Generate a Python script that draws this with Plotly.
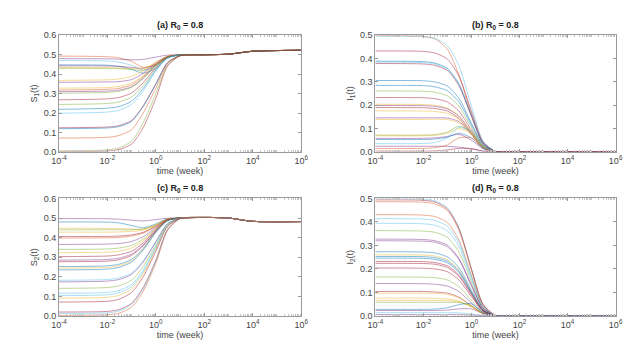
import plotly.graph_objects as go
from plotly.subplots import make_subplots

# time points (weeks), log axis
time_wk = [1e-4, 1e-2, 3e-2, 0.1, 0.3, 1, 3, 10, 100, 1e3, 1e4, 1e6]
x_ticks = [1e-4, 1e-2, 1, 1e2, 1e4, 1e6]
x_tick_labels = ["10<sup>-4</sup>", "10<sup>-2</sup>", "10<sup>0</sup>",
                 "10<sup>2</sup>", "10<sup>4</sup>", "10<sup>6</sup>"]

# MATLAB default line colours
B, O, Y, P, G, C, R = "#0072BD", "#D95319", "#EDB120", "#7E2F8E", "#77AC30", "#4DBEEE", "#A2142F"

# long-time behaviour shared by every curve of a panel (t = 100, 1e3, 1e4, 1e6)
s1_tail = [0.500, 0.503, 0.518, 0.523]
s2_tail = [0.503, 0.500, 0.483, 0.482]
i_tail = [0.0, 0.0, 0.0, 0.0]

# early part of each curve (t = 1e-4 ... 10)
s1_curves = [
    (O, [0.493, 0.490, 0.484, 0.466, 0.435, 0.450, 0.490, 0.499]),
    (P, [0.480, 0.479, 0.477, 0.474, 0.476, 0.488, 0.498, 0.500]),
    (C, [0.470, 0.468, 0.462, 0.445, 0.420, 0.440, 0.487, 0.499]),
    (B, [0.448, 0.446, 0.440, 0.425, 0.405, 0.430, 0.485, 0.499]),
    (P, [0.443, 0.442, 0.440, 0.435, 0.430, 0.450, 0.488, 0.499]),
    (Y, [0.435, 0.434, 0.432, 0.430, 0.432, 0.455, 0.490, 0.499]),
    (G, [0.430, 0.429, 0.428, 0.424, 0.420, 0.445, 0.488, 0.499]),
    (Y, [0.368, 0.371, 0.375, 0.388, 0.418, 0.463, 0.492, 0.499]),
    (P, [0.358, 0.360, 0.362, 0.372, 0.405, 0.458, 0.491, 0.499]),
    (Y, [0.328, 0.331, 0.337, 0.354, 0.393, 0.452, 0.490, 0.499]),
    (O, [0.318, 0.322, 0.327, 0.345, 0.387, 0.449, 0.489, 0.499]),
    (P, [0.310, 0.313, 0.318, 0.335, 0.380, 0.447, 0.489, 0.499]),
    (G, [0.302, 0.306, 0.312, 0.332, 0.377, 0.445, 0.488, 0.499]),
    (R, [0.268, 0.273, 0.280, 0.303, 0.356, 0.435, 0.486, 0.499]),
    (G, [0.244, 0.249, 0.257, 0.282, 0.341, 0.428, 0.485, 0.499]),
    (B, [0.219, 0.225, 0.233, 0.261, 0.326, 0.421, 0.483, 0.499]),
    (C, [0.199, 0.205, 0.214, 0.244, 0.313, 0.416, 0.482, 0.499]),
    (R, [0.124, 0.128, 0.135, 0.162, 0.237, 0.350, 0.459, 0.496]),
    (B, [0.119, 0.123, 0.130, 0.157, 0.233, 0.348, 0.458, 0.496]),
    (O, [0.071, 0.075, 0.084, 0.114, 0.200, 0.328, 0.453, 0.495]),
    (G, [0.005, 0.010, 0.020, 0.055, 0.150, 0.300, 0.445, 0.495]),
    (R, [0.000, 0.004, 0.012, 0.040, 0.125, 0.275, 0.440, 0.494]),
]

i1_curves = [
    (O, [0.500, 0.495, 0.485, 0.440, 0.330, 0.160, 0.035, 0.002]),
    (C, [0.496, 0.494, 0.487, 0.455, 0.370, 0.195, 0.048, 0.002]),
    (R, [0.433, 0.431, 0.424, 0.398, 0.325, 0.173, 0.043, 0.002]),
    (B, [0.389, 0.387, 0.381, 0.358, 0.292, 0.156, 0.039, 0.002]),
    (C, [0.385, 0.383, 0.377, 0.354, 0.289, 0.154, 0.038, 0.002]),
    (R, [0.379, 0.377, 0.371, 0.349, 0.284, 0.152, 0.038, 0.002]),
    (B, [0.306, 0.305, 0.300, 0.282, 0.230, 0.122, 0.031, 0.002]),
    (B, [0.285, 0.284, 0.279, 0.262, 0.214, 0.114, 0.029, 0.001]),
    (G, [0.261, 0.260, 0.256, 0.240, 0.196, 0.104, 0.026, 0.001]),
    (R, [0.233, 0.232, 0.228, 0.214, 0.175, 0.093, 0.023, 0.001]),
    (Y, [0.204, 0.203, 0.200, 0.188, 0.155, 0.085, 0.022, 0.001]),
    (P, [0.199, 0.198, 0.195, 0.184, 0.152, 0.083, 0.021, 0.001]),
    (R, [0.190, 0.189, 0.186, 0.175, 0.143, 0.076, 0.019, 0.001]),
    (Y, [0.176, 0.175, 0.173, 0.165, 0.140, 0.080, 0.020, 0.001]),
    (P, [0.146, 0.146, 0.146, 0.145, 0.130, 0.075, 0.019, 0.001]),
    (Y, [0.139, 0.139, 0.140, 0.138, 0.125, 0.073, 0.019, 0.001]),
    (G, [0.072, 0.072, 0.074, 0.085, 0.110, 0.085, 0.022, 0.001]),
    (Y, [0.069, 0.069, 0.071, 0.080, 0.100, 0.080, 0.021, 0.001]),
    (P, [0.058, 0.058, 0.060, 0.066, 0.075, 0.050, 0.014, 0.001]),
    (B, [0.053, 0.053, 0.055, 0.063, 0.080, 0.060, 0.016, 0.001]),
    (C, [0.035, 0.036, 0.040, 0.060, 0.105, 0.085, 0.022, 0.001]),
    (P, [0.024, 0.024, 0.024, 0.023, 0.020, 0.012, 0.003, 0.000]),
    (O, [0.014, 0.015, 0.018, 0.030, 0.060, 0.060, 0.018, 0.001]),
    (R, [0.003, 0.003, 0.004, 0.008, 0.015, 0.014, 0.004, 0.000]),
]

s2_curves = [
    (P, [0.497, 0.496, 0.494, 0.489, 0.485, 0.492, 0.499, 0.500]),
    (B, [0.480, 0.479, 0.475, 0.462, 0.450, 0.470, 0.496, 0.500]),
    (Y, [0.448, 0.447, 0.446, 0.444, 0.445, 0.465, 0.494, 0.500]),
    (G, [0.440, 0.440, 0.440, 0.440, 0.443, 0.465, 0.494, 0.500]),
    (Y, [0.428, 0.428, 0.429, 0.432, 0.438, 0.462, 0.493, 0.500]),
    (R, [0.406, 0.406, 0.408, 0.414, 0.427, 0.458, 0.492, 0.500]),
    (O, [0.398, 0.399, 0.401, 0.408, 0.423, 0.456, 0.492, 0.500]),
    (P, [0.365, 0.367, 0.370, 0.380, 0.405, 0.450, 0.491, 0.500]),
    (G, [0.340, 0.342, 0.347, 0.360, 0.392, 0.446, 0.490, 0.500]),
    (Y, [0.323, 0.326, 0.331, 0.347, 0.384, 0.443, 0.490, 0.500]),
    (R, [0.303, 0.306, 0.312, 0.330, 0.373, 0.440, 0.489, 0.500]),
    (P, [0.285, 0.288, 0.295, 0.316, 0.363, 0.436, 0.488, 0.500]),
    (R, [0.277, 0.280, 0.287, 0.309, 0.358, 0.434, 0.488, 0.500]),
    (B, [0.252, 0.256, 0.264, 0.289, 0.345, 0.430, 0.487, 0.500]),
    (Y, [0.244, 0.248, 0.256, 0.282, 0.341, 0.428, 0.487, 0.500]),
    (B, [0.235, 0.239, 0.248, 0.275, 0.336, 0.426, 0.486, 0.500]),
    (C, [0.182, 0.186, 0.194, 0.219, 0.281, 0.380, 0.471, 0.499]),
    (P, [0.174, 0.178, 0.186, 0.212, 0.275, 0.377, 0.470, 0.499]),
    (G, [0.141, 0.145, 0.154, 0.183, 0.252, 0.363, 0.466, 0.499]),
    (C, [0.116, 0.120, 0.130, 0.161, 0.234, 0.352, 0.462, 0.498]),
    (C, [0.104, 0.108, 0.118, 0.150, 0.225, 0.346, 0.460, 0.498]),
    (Y, [0.091, 0.095, 0.105, 0.138, 0.215, 0.340, 0.458, 0.498]),
    (R, [0.071, 0.075, 0.085, 0.120, 0.200, 0.330, 0.455, 0.498]),
    (R, [0.020, 0.023, 0.032, 0.065, 0.145, 0.285, 0.440, 0.497]),
    (C, [0.013, 0.016, 0.025, 0.058, 0.138, 0.280, 0.438, 0.497]),
    (O, [0.003, 0.006, 0.014, 0.045, 0.125, 0.270, 0.435, 0.497]),
]

i2_curves = [
    (C, [0.500, 0.497, 0.490, 0.460, 0.375, 0.200, 0.050, 0.003]),
    (R, [0.494, 0.492, 0.485, 0.455, 0.372, 0.198, 0.050, 0.003]),
    (O, [0.486, 0.484, 0.477, 0.448, 0.365, 0.195, 0.049, 0.003]),
    (O, [0.431, 0.429, 0.423, 0.397, 0.323, 0.172, 0.043, 0.002]),
    (C, [0.414, 0.412, 0.406, 0.381, 0.311, 0.166, 0.041, 0.002]),
    (C, [0.394, 0.392, 0.386, 0.362, 0.296, 0.158, 0.039, 0.002]),
    (G, [0.363, 0.361, 0.356, 0.334, 0.272, 0.145, 0.036, 0.002]),
    (P, [0.327, 0.325, 0.320, 0.301, 0.245, 0.131, 0.033, 0.002]),
    (P, [0.320, 0.318, 0.314, 0.294, 0.240, 0.128, 0.032, 0.002]),
    (B, [0.273, 0.272, 0.268, 0.251, 0.205, 0.109, 0.027, 0.001]),
    (Y, [0.260, 0.259, 0.255, 0.239, 0.195, 0.104, 0.026, 0.001]),
    (B, [0.253, 0.252, 0.248, 0.233, 0.190, 0.101, 0.025, 0.001]),
    (B, [0.246, 0.245, 0.241, 0.226, 0.185, 0.098, 0.025, 0.001]),
    (R, [0.232, 0.231, 0.227, 0.213, 0.174, 0.093, 0.023, 0.001]),
    (R, [0.224, 0.223, 0.220, 0.206, 0.168, 0.090, 0.022, 0.001]),
    (R, [0.204, 0.203, 0.200, 0.188, 0.153, 0.082, 0.020, 0.001]),
    (G, [0.166, 0.165, 0.163, 0.153, 0.125, 0.066, 0.017, 0.001]),
    (P, [0.138, 0.137, 0.135, 0.127, 0.104, 0.055, 0.014, 0.001]),
    (R, [0.104, 0.104, 0.102, 0.097, 0.080, 0.043, 0.011, 0.001]),
    (Y, [0.097, 0.097, 0.096, 0.092, 0.077, 0.042, 0.011, 0.001]),
    (Y, [0.076, 0.076, 0.075, 0.072, 0.063, 0.038, 0.010, 0.001]),
    (Y, [0.066, 0.066, 0.066, 0.065, 0.060, 0.040, 0.011, 0.001]),
    (G, [0.058, 0.058, 0.058, 0.058, 0.057, 0.042, 0.012, 0.001]),
    (B, [0.028, 0.028, 0.029, 0.035, 0.048, 0.052, 0.016, 0.001]),
    (P, [0.023, 0.023, 0.023, 0.025, 0.030, 0.030, 0.010, 0.000]),
    (C, [0.014, 0.014, 0.014, 0.014, 0.013, 0.008, 0.002, 0.000]),
    (P, [0.006, 0.006, 0.006, 0.006, 0.006, 0.004, 0.001, 0.000]),
]

panels = [
    ("(a) R<sub>0</sub> = 0.8", "S<sub>1</sub>(t)", s1_curves, s1_tail, 0.6),
    ("(b) R<sub>0</sub> = 0.8", "I<sub>1</sub>(t)", i1_curves, i_tail, 0.5),
    ("(c) R<sub>0</sub> = 0.8", "S<sub>2</sub>(t)", s2_curves, s2_tail, 0.6),
    ("(d) R<sub>0</sub> = 0.8", "I<sub>2</sub>(t)", i2_curves, i_tail, 0.5),
]

W, H = 641, 344
x_dom = [(44 / W, 292 / W), (368 / W, 614 / W)]
y_dom = [(1 - 143 / H, 1 - 23 / H), (1 - 312 / H, 1 - 191 / H)]

fig = make_subplots(rows=2, cols=2)
font = "Liberation Sans, Arial, sans-serif"
axcol = "#9a9a9a"

for k, (title, ylab, curves, tail, ymax) in enumerate(panels):
    row, col = k // 2 + 1, k % 2 + 1
    for color, head in curves:
        fig.add_trace(
            go.Scatter(
                x=time_wk, y=head + tail, mode="lines",
                line=dict(color=color, width=0.8, shape="spline", smoothing=0.7),
                opacity=0.6, showlegend=False, hoverinfo="skip",
            ),
            row=row, col=col,
        )
    xd, yd = x_dom[col - 1], y_dom[row - 1]
    fig.update_xaxes(
        type="log", range=[-4, 6], tickvals=x_ticks, ticktext=x_tick_labels,
        domain=list(xd), showline=True, linecolor=axcol, linewidth=1, mirror="ticks",
        ticks="inside", ticklen=3, tickcolor=axcol, showgrid=False, zeroline=False,
        minor=dict(ticks="inside", ticklen=2, tickcolor="#c4c4c4", dtick="D1"),
        tickfont=dict(size=9, color="#444"),
        title=dict(text="time (week)", font=dict(size=9, color="#444"), standoff=0),
        row=row, col=col,
    )
    fig.update_yaxes(
        range=[0, ymax], dtick=0.1, tickformat=".1f", domain=list(yd),
        showline=True, linecolor=axcol, linewidth=1, mirror="ticks",
        ticks="inside", ticklen=3, tickcolor=axcol, showgrid=False, zeroline=False,
        tickfont=dict(size=9, color="#444"),
        title=dict(text=ylab, font=dict(size=9, color="#444"), standoff=4),
        row=row, col=col,
    )
    fig.add_annotation(
        text="<b>" + title + "</b>", x=(xd[0] + xd[1]) / 2, y=yd[1],
        xref="paper", yref="paper", xanchor="center", yanchor="bottom", yshift=2,
        showarrow=False, font=dict(size=9, color="#222"),
    )

fig.update_layout(
    width=W, height=H, margin=dict(l=0, r=0, t=0, b=0),
    paper_bgcolor="white", plot_bgcolor="white",
    font=dict(family=font, size=9, color="#444"),
)

fig.write_html("out.html")
